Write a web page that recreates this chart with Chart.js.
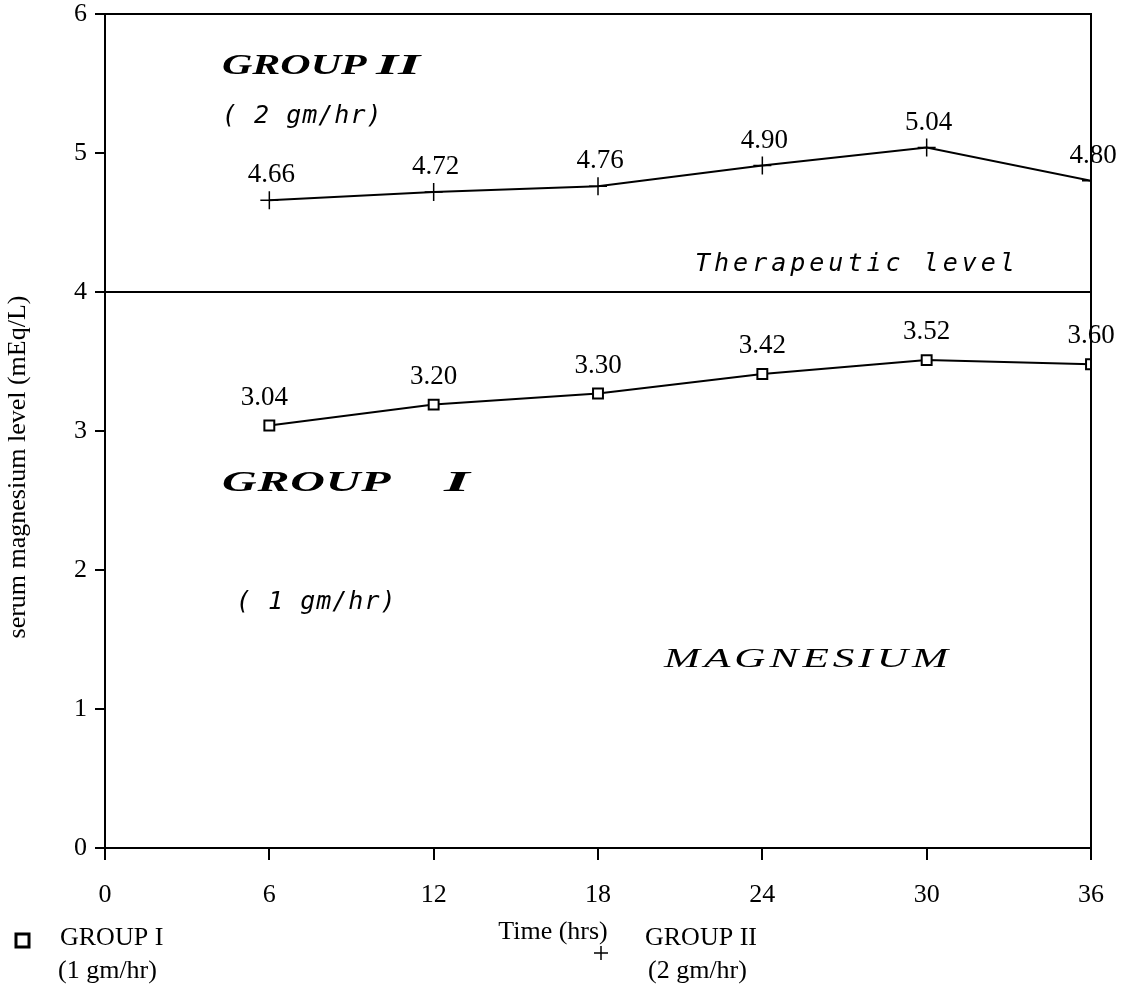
<!DOCTYPE html>
<html>
<head>
<meta charset="utf-8">
<script src="https://cdn.jsdelivr.net/npm/chart.js@4"></script>
<style>
  body { margin: 0; background: #fff; }
  #wrap { width: 1124px; height: 1002px; position: relative; }
</style>
</head>
<body>
<div id="wrap"><canvas id="chart"></canvas></div>
<script>
// hours after start of infusion
const hours = [6, 12, 18, 24, 30, 36];
// plotted positions
const group1Values = [3.04, 3.19, 3.27, 3.41, 3.51, 3.48];
const group2Values = [4.66, 4.72, 4.76, 4.91, 5.04, 4.80];
// printed labels above each point
const group1Labels = ['3.04', '3.20', '3.30', '3.42', '3.52', '3.60'];
const group2Labels = ['4.66', '4.72', '4.76', '4.90', '5.04', '4.80'];
const therapeuticHours = [0, 36];
const therapeuticLevel = [4, 4];
const xTicks = [0, 6, 12, 18, 24, 30, 36];
const yTicks = [0, 1, 2, 3, 4, 5, 6];

const serif = '"Liberation Serif", "Times New Roman", serif';
const mono = '"DejaVu Sans Mono", monospace';

function toPoints(xs, ys) {
    return xs.map((x, i) => ({ x: x, y: ys[i] }));
}

// draws text stretched sideways (the wide italic captions)
function wideText(ctx, text, x, y, font, sx, spacing) {
    ctx.save();
    ctx.font = font;
    ctx.letterSpacing = (spacing || 0) + 'px';
    ctx.textBaseline = 'middle';
    ctx.textAlign = 'left';
    ctx.translate(x, y);
    ctx.scale(sx, 1);
    ctx.fillText(text, 0, 0);
    ctx.restore();
}

const annotations = {
    id: 'annotations',
    afterDatasetsDraw(chart) {
        const ctx = chart.ctx;
        const area = chart.chartArea;
        const xs = chart.scales.x;
        const ys = chart.scales.y;
        ctx.save();
        ctx.fillStyle = '#000';
        ctx.strokeStyle = '#000';

        // frame top + right
        ctx.lineWidth = 2;
        ctx.beginPath();
        ctx.moveTo(area.left - 10, area.top);
        ctx.lineTo(area.right, area.top);
        ctx.lineTo(area.right, area.bottom + 12);
        ctx.stroke();

        // value labels
        ctx.font = '27px ' + serif;
        ctx.textAlign = 'center';
        ctx.textBaseline = 'middle';
        hours.forEach((h, i) => {
            ctx.fillText(group2Labels[i], xs.getPixelForValue(h) + 2, ys.getPixelForValue(group2Values[i]) - 25);
            ctx.fillText(group1Labels[i], xs.getPixelForValue(h) - (i === 0 ? 5 : 0), ys.getPixelForValue(group1Values[i]) - 28);
        });

        // captions
        const capFont = 'italic bold 30px ' + serif;
        wideText(ctx, 'GROUP', 222, 66, capFont, 1.4, 0);
        wideText(ctx, 'I', 376, 66, capFont, 1.9, 0);
        wideText(ctx, 'I', 398, 66, capFont, 1.9, 0);
        wideText(ctx, 'GROUP', 222, 483, capFont, 1.6, 0.5);
        wideText(ctx, 'I', 444, 483, capFont, 2.2, 0);
        wideText(ctx, 'MAGNESIUM', 664, 660, 'italic 27px ' + serif, 1.6, 2.5);

        const monoFont = 'italic 25px ' + mono;
        wideText(ctx, '( 2 gm/hr)', 222, 116, monoFont, 1, 1);
        wideText(ctx, '( 1 gm/hr)', 236, 602, monoFont, 1, 1);
        wideText(ctx, 'Therapeutic level', 695, 264, monoFont, 1, 4);

        // axis titles
        ctx.font = '26px ' + serif;
        ctx.textAlign = 'center';
        ctx.textBaseline = 'middle';
        ctx.fillText('Time (hrs)', 553, 932);
        ctx.save();
        ctx.translate(18, 467);
        ctx.rotate(-Math.PI / 2);
        ctx.fillText('serum magnesium level (mEq/L)', 0, 0);
        ctx.restore();

        // legend
        ctx.textAlign = 'left';
        ctx.fillText('GROUP I', 60, 938);
        ctx.fillText('(1 gm/hr)', 58, 971);
        ctx.fillText('GROUP II', 645, 938);
        ctx.fillText('(2 gm/hr)', 648, 971);
        ctx.lineWidth = 3;
        ctx.strokeRect(16, 934, 13, 13);
        ctx.lineWidth = 1.5;
        ctx.beginPath();
        ctx.moveTo(594, 953); ctx.lineTo(608, 953);
        ctx.moveTo(601, 946); ctx.lineTo(601, 960);
        ctx.stroke();
        ctx.restore();
    }
};

new Chart(document.getElementById('chart'), {
    type: 'line',
    data: {
        datasets: [{
            label: 'GROUP I (1 gm/hr)',
            data: toPoints(hours, group1Values),
            borderColor: '#000',
            borderWidth: 2,
            pointStyle: 'rect',
            pointRadius: 7,
            pointBorderWidth: 2,
            pointBackgroundColor: '#fff',
            pointBorderColor: '#000',
            tension: 0
        }, {
            label: 'GROUP II (2 gm/hr)',
            data: toPoints(hours, group2Values),
            borderColor: '#000',
            borderWidth: 2,
            pointStyle: 'cross',
            pointRadius: 9,
            pointBorderWidth: 1.5,
            pointBorderColor: '#000',
            tension: 0
        }, {
            label: 'Therapeutic level',
            data: toPoints(therapeuticHours, therapeuticLevel),
            borderColor: '#000',
            borderWidth: 2,
            pointRadius: 0
        }]
    },
    options: {
        responsive: true,
        maintainAspectRatio: false,
        animation: false,
        layout: { padding: { left: 0, top: 14, right: 28, bottom: 0 } },
        plugins: {
            legend: { display: false },
            tooltip: { enabled: false }
        },
        scales: {
            x: {
                type: 'linear',
                min: 0,
                max: 36,
                afterBuildTicks: axis => { axis.ticks = xTicks.map(v => ({ value: v })); },
                afterFit: axis => { axis.height = 154; },
                border: { color: '#000', width: 2 },
                grid: { drawOnChartArea: false, drawTicks: true, tickLength: 12, color: '#000', lineWidth: 2 },
                ticks: { color: '#000', padding: 20, font: { family: serif, size: 26 } }
            },
            y: {
                min: 0,
                max: 6,
                afterBuildTicks: axis => { axis.ticks = yTicks.map(v => ({ value: v })); },
                afterFit: axis => {
                    axis.width = 105;
                    axis.paddingTop = 0;
                    axis.paddingBottom = 0;
                },
                border: { color: '#000', width: 2 },
                grid: { drawOnChartArea: false, drawTicks: true, tickLength: 10, color: '#000', lineWidth: 2 },
                ticks: { color: '#000', padding: 8, font: { family: serif, size: 26 } }
            }
        }
    },
    plugins: [annotations]
});
</script>
</body>
</html>
